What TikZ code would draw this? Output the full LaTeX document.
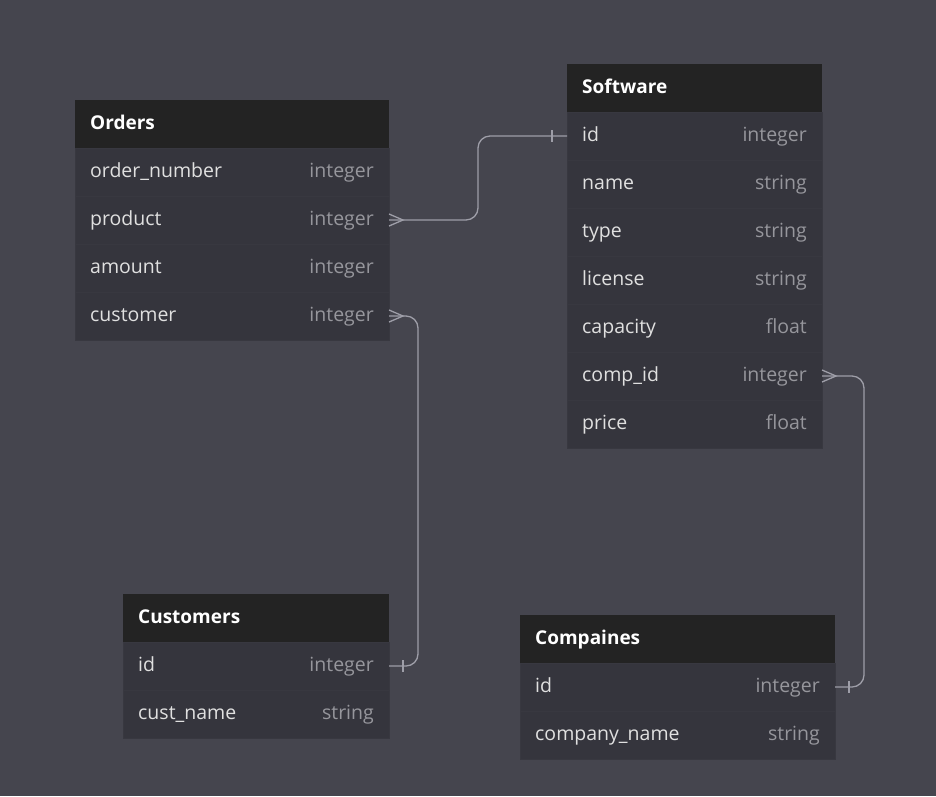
\documentclass[tikz,border=0pt]{standalone}
\usepackage{fontspec}
\setmainfont{Open Sans}
\usetikzlibrary{calc}
\definecolor{bgc}{RGB}{69,69,78}
\definecolor{headc}{RGB}{35,35,35}
\definecolor{rowc}{RGB}{53,53,61}
\definecolor{rowline}{RGB}{56,56,64}
\definecolor{namec}{RGB}{224,224,224}
\definecolor{typec}{RGB}{150,150,156}
\definecolor{linkc}{RGB}{158,158,168}
\tikzset{
  rowbox/.style={fill=rowc, draw=rowline, line width=0.6pt, minimum height=48pt, inner sep=0pt, outer sep=0pt},
  headbox/.style={fill=headc, draw=none, minimum height=48pt, inner sep=0pt, outer sep=0pt},
  fieldtxt/.style={text=namec, inner sep=0pt, font=\fontsize{19.5}{22}\selectfont},
  typetxt/.style={text=typec, inner sep=0pt, font=\fontsize{19.5}{22}\selectfont},
  headtxt/.style={text=white, inner sep=0pt, font=\bfseries\fontsize{19}{22}\selectfont},
  link/.style={draw=linkc, line width=1.3pt, rounded corners=12pt},
  endmark/.style={draw=linkc, line width=1.3pt},
}
\newcommand{\dbhead}[5]{%
  \node[headbox, minimum width=#4pt, anchor=north west] (#1) at (#2pt,-#3pt) {};
  \node[headtxt, anchor=base west] (#1-n) at ([xshift=15pt,yshift=-5pt]#1.west) {#5};
}
\newcommand{\dbrow}[6]{%
  \node[rowbox, minimum width=#4pt, anchor=north west] (#1) at (#2pt,-#3pt) {};
  \node[fieldtxt, anchor=base west] (#1-n) at ([xshift=15pt,yshift=-5pt]#1.west) {#5};
  \node[typetxt, anchor=base east] (#1-t) at ([xshift=-15pt,yshift=-5pt]#1.east) {#6};
}
\begin{document}
\begin{tikzpicture}
\fill[bgc] (0,0) rectangle (936pt,-796pt);
\useasboundingbox (0,0) rectangle (936pt,-796pt);

% Orders
\dbhead{ord}{75}{100}{314}{Orders}
\dbrow{ord-num}{75}{148}{314}{order\_number}{integer}
\dbrow{ord-prod}{75}{196}{314}{product}{integer}
\dbrow{ord-amt}{75}{244}{314}{amount}{integer}
\dbrow{ord-cust}{75}{292}{314}{customer}{integer}

% Software
\dbhead{sw}{567}{64}{255}{Software}
\dbrow{sw-id}{567}{112}{255}{id}{integer}
\dbrow{sw-name}{567}{160}{255}{name}{string}
\dbrow{sw-type}{567}{208}{255}{type}{string}
\dbrow{sw-lic}{567}{256}{255}{license}{string}
\dbrow{sw-cap}{567}{304}{255}{capacity}{float}
\dbrow{sw-comp}{567}{352}{255}{comp\_id}{integer}
\dbrow{sw-price}{567}{400}{255}{price}{float}

% Customers
\dbhead{cus}{123}{594}{266}{Customers}
\dbrow{cus-id}{123}{642}{266}{id}{integer}
\dbrow{cus-name}{123}{690}{266}{cust\_name}{string}

% Compaines
\dbhead{com}{520}{615}{315}{Compaines}
\dbrow{com-id}{520}{663}{315}{id}{integer}
\dbrow{com-name}{520}{711}{315}{company\_name}{string}

% connector coordinates
\coordinate (c1) at (478pt,0);
\coordinate (c2) at (418pt,0);
\coordinate (c3) at (864pt,0);

% Orders.product >- Software.id
\draw[link] (ord-prod.east) -| (c1 |- sw-id.west) -- (sw-id.west);
\draw[endmark] ([yshift=6pt]ord-prod.east) -- ([xshift=14pt]ord-prod.east) -- ([yshift=-6pt]ord-prod.east);
\draw[endmark] ([xshift=-15pt,yshift=6pt]sw-id.west) -- ([xshift=-15pt,yshift=-6pt]sw-id.west);

% Orders.customer >- Customers.id
\draw[link] (ord-cust.east) -| (c2 |- cus-id.east) -- (cus-id.east);
\draw[endmark] ([yshift=6pt]ord-cust.east) -- ([xshift=14pt]ord-cust.east) -- ([yshift=-6pt]ord-cust.east);
\draw[endmark] ([xshift=14pt,yshift=6pt]cus-id.east) -- ([xshift=14pt,yshift=-6pt]cus-id.east);

% Software.comp_id >- Compaines.id
\draw[link] (sw-comp.east) -| (c3 |- com-id.east) -- (com-id.east);
\draw[endmark] ([yshift=6pt]sw-comp.east) -- ([xshift=14pt]sw-comp.east) -- ([yshift=-6pt]sw-comp.east);
\draw[endmark] ([xshift=14pt,yshift=6pt]com-id.east) -- ([xshift=14pt,yshift=-6pt]com-id.east);
\end{tikzpicture}
\end{document}
